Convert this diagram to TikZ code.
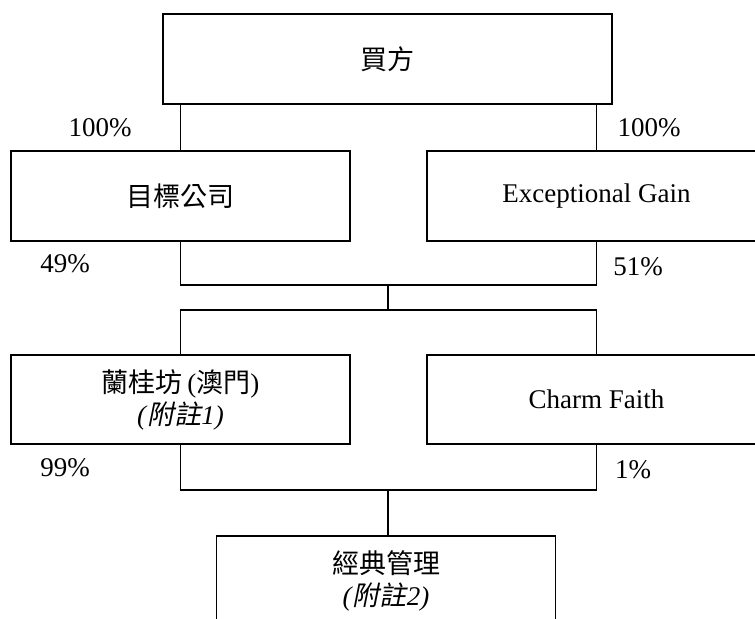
\documentclass[tikz,border=0pt]{standalone}
\usepackage{fontspec}
\setmainfont{Liberation Serif}
\newfontfamily\cjk{Noto Sans CJK TC}
\newfontfamily\cjkit{Noto Sans CJK TC}[FakeSlant=0.2]
\begin{document}
\begin{tikzpicture}[x=0.5pt,y=-0.5pt,
  box/.style={draw=black,line width=0.6pt,rectangle,inner sep=0pt,outer sep=0pt,
    minimum width=169.5pt,minimum height=45pt,align=center,font=\fontsize{13.5}{17}\selectfont},
  pct/.style={inner sep=0pt,font=\fontsize{13.5}{16}\selectfont},
  conn/.style={draw=black,line width=0.6pt}]
\useasboundingbox (0,0) rectangle (755,619);
\node[box,minimum width=224.5pt] (buyer) at (387.5,59) {{\cjk 買方}};
\node[box] (target) at (180.5,196) {{\cjk 目標公司}};
\node[box] (eg) at (596.5,196) {Exceptional Gain};
\node[box,minimum height=44.5pt] (lkf) at (180.5,399.5) {{\cjk 蘭桂坊}\,({\cjk 澳門})\\[-1pt]\textit{(}{\cjkit 附註}\textit{1)}};
\node[box,minimum height=44.5pt] (cf) at (596.5,399.5) {Charm Faith};
\node[box] (cm) at (386,581) {{\cjk 經典管理}\\[-1pt]\textit{(}{\cjkit 附註}\textit{2)}};
\coordinate (j1) at (388,285);
\coordinate (j2) at (388,310);
\coordinate (j3) at (388,490);
\draw[conn] (buyer.south -| target.north) -- (target.north);
\draw[conn] (buyer.south -| eg.north) -- (eg.north);
\draw[conn] (target.south) |- (j1);
\draw[conn] (j1) -| (eg.south);
\draw[conn] (j1) -- (j2);
\draw[conn] (j2) -| (lkf.north);
\draw[conn] (j2) -| (cf.north);
\draw[conn] (lkf.south) |- (j3);
\draw[conn] (j3) -| (cf.south);
\draw[conn] (j3) -- (j3 |- cm.north);
\node[pct] (p1) at (100,128) {100\%};
\node[pct] (p2) at (649,128) {100\%};
\node[pct] (p3) at (65,264) {49\%};
\node[pct] (p4) at (638,267) {51\%};
\node[pct] (p5) at (65,468) {99\%};
\node[pct] (p6) at (633,470) {1\%};
\end{tikzpicture}
\end{document}
